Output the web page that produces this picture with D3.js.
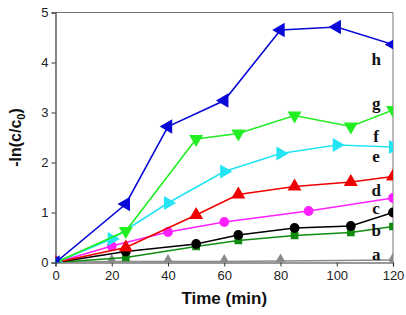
<!DOCTYPE html>
<html lang="en">
<head>
  <meta charset="UTF-8">
  <title>-ln(c/c0) vs time</title>
  <script src="https://d3js.org/d3.v7.min.js"></script>
  <style>
    body { margin: 0; background: #fff; }
    svg { display: block; }
    .tick text { font-family: "Liberation Sans", Arial, sans-serif; font-size: 13px; fill: #222; }
    .axis-title { font-family: "Liberation Sans", Arial, sans-serif; font-weight: bold; fill: #111; }
    .curve-label { font-family: "Liberation Serif", "Times New Roman", serif; font-weight: bold; font-size: 17px; fill: #111; }
  </style>
</head>
<body>
  <svg width="406" height="315"></svg>
  <script>
    // series data (time in min, -ln(c/c0))
    const seriesNames = ["a", "b", "c", "d", "e", "f", "g", "h"];
    const seriesColors = ["#8a8a8a", "#118c11", "#000000", "#ff20ff", "#ee0000", "#22e4f2", "#22ee22", "#0a0ad8"];
    const seriesShapes = ["diamond", "square", "circle", "circle", "up", "right", "down", "left"];
    const seriesTimes = [
      [0, 20, 40, 60, 80, 120],
      [0, 25, 50, 65, 85, 105, 120],
      [0, 25, 50, 65, 85, 105, 120],
      [0, 20, 40, 60, 90, 120],
      [0, 25, 50, 65, 85, 105, 120],
      [0, 20, 40, 60, 80, 100, 120],
      [0, 25, 50, 65, 85, 105, 120],
      [0, 25, 40, 60, 80, 100, 120]
    ];
    const seriesValues = [
      [0, 0.02, 0.02, 0.02, 0.03, 0.05],
      [0, 0.10, 0.32, 0.44, 0.54, 0.60, 0.72],
      [0, 0.22, 0.37, 0.55, 0.69, 0.73, 1.00],
      [0, 0.33, 0.61, 0.81, 1.03, 1.29],
      [0, 0.30, 0.95, 1.36, 1.52, 1.61, 1.72],
      [0, 0.47, 1.19, 1.82, 2.18, 2.35, 2.31],
      [0, 0.63, 2.47, 2.58, 2.94, 2.72, 3.05],
      [0, 1.17, 2.72, 3.24, 4.65, 4.71, 4.36]
    ];
    const labelValues = [0.17, 0.65, 1.09, 1.44, 2.13, 2.53, 3.18, 4.06];
    const labelTime = 114;
    const xTicks = [0, 20, 40, 60, 80, 100, 120];
    const yTicks = [0, 1, 2, 3, 4, 5];

    const svg = d3.select("svg");
    const margin = { left: 55.5, right: 13, top: 12.5, bottom: 52.5 };
    const W = 406, H = 315;

    const x = d3.scaleLinear().domain([0, 120]).range([margin.left, W - margin.right]);
    const y = d3.scaleLinear().domain([0, 5]).range([H - margin.bottom, margin.top]);

    svg.append("clipPath").attr("id", "plot-clip")
      .append("rect")
      .attr("x", x(0)).attr("y", y(5))
      .attr("width", x(120) - x(0)).attr("height", y(0) - y(5));

    // frame (top and right)
    svg.append("path")
      .attr("d", `M${x(0)},${y(5)}H${x(120)}V${y(0)}`)
      .attr("fill", "none").attr("stroke", "#777").attr("stroke-width", 1);

    const xAxis = svg.append("g")
      .attr("transform", `translate(0,${y(0)})`)
      .call(d3.axisBottom(x).tickValues(xTicks).tickFormat(d3.format("d")).tickSize(4).tickPadding(4));
    const yAxis = svg.append("g")
      .attr("transform", `translate(${x(0)},0)`)
      .call(d3.axisLeft(y).tickValues(yTicks).tickFormat(d3.format("d")).tickSize(4).tickPadding(3));
    [xAxis, yAxis].forEach(a => {
      a.select(".domain").attr("stroke", "#333").attr("stroke-width", 1.2);
      a.selectAll(".tick line").attr("stroke", "#333");
    });

    const symbolFor = {
      circle: d3.symbol().type(d3.symbolCircle).size(75),
      square: d3.symbol().type(d3.symbolSquare).size(60),
      diamond: d3.symbol().type(d3.symbolDiamond).size(65),
      up: d3.symbol().type(d3.symbolTriangle).size(85),
      down: d3.symbol().type(d3.symbolTriangle).size(85),
      left: d3.symbol().type(d3.symbolTriangle).size(90),
      right: d3.symbol().type(d3.symbolTriangle).size(85)
    };
    const rotFor = { circle: 0, square: 0, diamond: 0, up: 0, down: 180, left: -90, right: 90 };

    const plot = svg.append("g").attr("clip-path", "url(#plot-clip)");
    const line = d3.line().x(d => x(d[0])).y(d => y(d[1]));

    seriesNames.forEach((name, i) => {
      const pts = seriesTimes[i].map((t, j) => [t, seriesValues[i][j]]);
      const g = plot.append("g");
      g.append("path")
        .datum(pts)
        .attr("d", line)
        .attr("fill", "none")
        .attr("stroke", seriesColors[i])
        .attr("stroke-width", 1.6);
      g.selectAll("path.mark")
        .data(pts)
        .join("path")
        .attr("class", "mark")
        .attr("d", symbolFor[seriesShapes[i]])
        .attr("transform", d => `translate(${x(d[0])},${y(d[1])}) rotate(${rotFor[seriesShapes[i]]})`)
        .attr("fill", seriesColors[i]);

      svg.append("text")
        .attr("class", "curve-label")
        .attr("x", x(labelTime))
        .attr("y", y(labelValues[i]))
        .attr("dy", "0.35em")
        .attr("text-anchor", "middle")
        .text(name);
    });

    svg.append("text")
      .attr("class", "axis-title")
      .attr("x", (x(0) + x(120)) / 2)
      .attr("y", 304)
      .attr("text-anchor", "middle")
      .attr("font-size", 17)
      .text("Time (min)");

    const yt = svg.append("text")
      .attr("class", "axis-title")
      .attr("transform", `translate(21,${(y(0) + y(5)) / 2}) rotate(-90)`)
      .attr("text-anchor", "middle")
      .attr("font-size", 16);
    yt.append("tspan").text("-ln(c/c");
    yt.append("tspan").attr("font-size", 11).attr("dy", 4).text("0");
    yt.append("tspan").attr("dy", -4).text(")");
  </script>
</body>
</html>
